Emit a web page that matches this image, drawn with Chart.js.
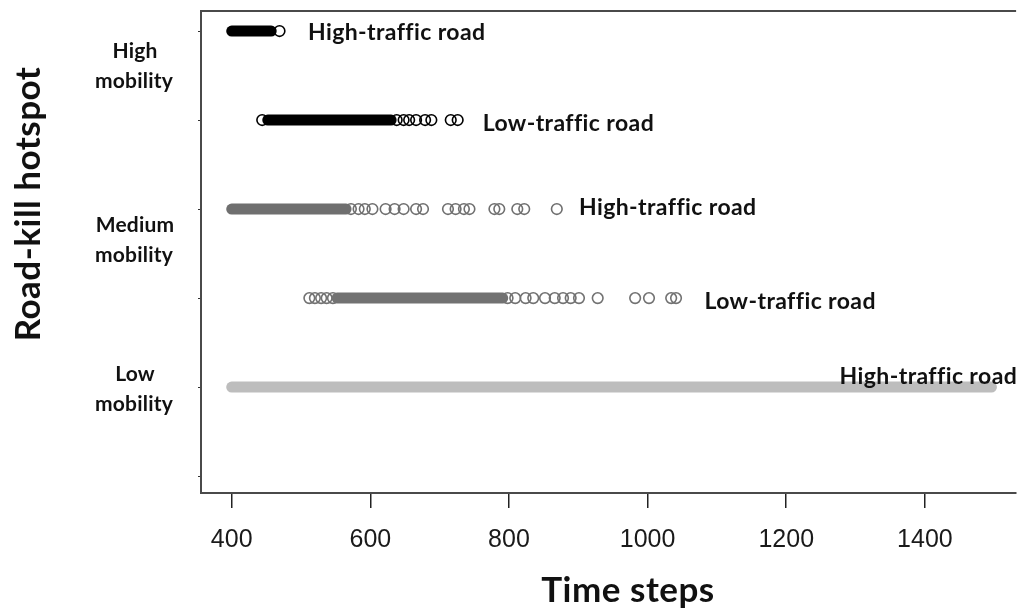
<!DOCTYPE html>
<html>
<head>
<meta charset="utf-8">
<script src="https://cdn.jsdelivr.net/npm/chart.js@4.4.1/dist/chart.umd.min.js"></script>
<style>
  html, body { margin: 0; padding: 0; background: #fff; }
  #wrap { width: 1023px; height: 611px; }
</style>
</head>
<body>
<div id="wrap"><canvas id="hotspot" width="1023" height="611"></canvas></div>
<script>
// Rows on the y scale, top to bottom (1 is the empty bottom row)
const rowLevels = [6, 5, 4, 3, 2];
const rowNames = [
  'High mobility, high-traffic road',
  'High mobility, low-traffic road',
  'Medium mobility, high-traffic road',
  'Medium mobility, low-traffic road',
  'Low mobility, high-traffic road',
];
const roadLabels = ['High-traffic road', 'Low-traffic road', 'High-traffic road', 'Low-traffic road', 'High-traffic road'];
const mobilityLabels = [['High', 'mobility'], ['Medium', 'mobility'], ['Low', 'mobility']];
const xTicks = [400, 600, 800, 1000, 1200, 1400];

// Dense runs of overlapping time steps (start, end)
const bandStart = [400, 452, 400, 552, 400];
const bandEnd = [457, 630, 565, 791, 1496];

// Separate time steps outside the dense runs
const highMobHighSteps = [469];
const highMobLowSteps = [444, 638, 648, 656, 666, 679, 688, 716, 726];
const medMobHighSteps = [572, 583, 592, 603, 622, 635, 648, 666, 676, 712, 723, 735, 743, 779, 786, 812, 822, 869];
const medMobLowSteps = [512, 520, 529, 537, 546, 798, 809, 824, 835, 852, 866, 878, 889, 901, 928, 982, 1002, 1034, 1041];
const lowMobHighSteps = [];
const looseSteps = [highMobHighSteps, highMobLowSteps, medMobHighSteps, medMobLowSteps, lowMobHighSteps];

// styles
const rowColors = ['#000000', '#000000', '#6f6f6f', '#727272', '#bdbdbd'];
const axisColor = '#4a4a4a';
const labelFont = '700 23px Lato, "Open Sans", sans-serif';
// where the road labels start (time step) and their nudge in px
const roadLabelAt = [510, 762, 901, 1082, 1277];
const roadLabelDy = [2, 4, -1, 4, -10];
const mobilityLabelAt = [5.6, 3.65, 1.98];

const datasets = [];
rowLevels.forEach((lvl, i) => {
  datasets.push({
    label: rowNames[i] + ' (run)',
    data: [{ x: bandStart[i], y: lvl }, { x: bandEnd[i], y: lvl }],
    showLine: true,
    borderColor: rowColors[i],
    borderWidth: 11,
    borderCapStyle: 'round',
    pointRadius: 0,
    pointHoverRadius: 0,
  });
  datasets.push({
    label: rowNames[i],
    data: looseSteps[i].map(v => ({ x: v, y: lvl })),
    showLine: false,
    pointStyle: 'circle',
    pointRadius: 5.3,
    pointBorderWidth: 1.6,
    borderColor: rowColors[i],
    backgroundColor: 'rgba(0,0,0,0)',
  });
});

const textPlugin = {
  id: 'textLayer',
  afterDraw(c) {
    const ctx = c.ctx;
    const { left, right, top } = c.chartArea;
    const xs = c.scales.x;
    const ys = c.scales.y;
    ctx.save();
    // top frame line
    ctx.strokeStyle = axisColor;
    ctx.lineWidth = 2;
    ctx.beginPath();
    ctx.moveTo(left - 1, top);
    ctx.lineTo(right, top);
    ctx.stroke();

    ctx.fillStyle = '#111';
    ctx.textBaseline = 'middle';
    ctx.letterSpacing = '0.4px';
    // road labels
    ctx.font = labelFont;
    ctx.textAlign = 'left';
    roadLabels.forEach((t, i) => {
      ctx.fillText(t, xs.getPixelForValue(roadLabelAt[i]), ys.getPixelForValue(rowLevels[i]) + roadLabelDy[i]);
    });
    // mobility labels
    ctx.textAlign = 'center';
    ctx.font = '700 21px Lato, "Open Sans", sans-serif';
    ctx.letterSpacing = '0.2px';
    mobilityLabels.forEach((lines, i) => {
      const yc = ys.getPixelForValue(mobilityLabelAt[i]);
      ctx.fillText(lines[0], 135, yc - 15);
      ctx.fillText(lines[1], 134, yc + 15);
    });
    // axis titles
    ctx.letterSpacing = '0.5px';
    ctx.font = '700 35px Lato, "Open Sans", sans-serif';
    ctx.fillText('Time steps', 628, 591);
    ctx.translate(29, 204);
    ctx.rotate(-Math.PI / 2);
    ctx.font = '700 35px Lato, "Open Sans", sans-serif';
    ctx.fillText('Road-kill hotspot', 0, 0);
    ctx.restore();
  },
};

new Chart(document.getElementById('hotspot'), {
  type: 'scatter',
  data: { datasets },
  options: {
    responsive: false,
    animation: false,
    layout: { padding: { top: 11, left: 0, right: 0, bottom: 0 } },
    plugins: {
      legend: { display: false },
      tooltip: { enabled: false },
    },
    scales: {
      x: {
        type: 'linear',
        min: 355.7,
        max: 1531.6,
        afterFit: (s) => { s.height = 118; },
        afterBuildTicks: (s) => { s.ticks = xTicks.map(v => ({ value: v })); },
        border: { display: true, color: axisColor, width: 2 },
        grid: { drawOnChartArea: false, drawTicks: true, tickLength: 15, color: '#222', lineWidth: 1.5 },
        ticks: {
          color: '#1a1a1a',
          padding: 17,
          maxRotation: 0,
          callback: (v) => String(v),
          font: { family: '"Liberation Sans", Arial, sans-serif', size: 25 },
        },
      },
      y: {
        type: 'linear',
        min: 0.81,
        max: 6.225,
        afterFit: (s) => { s.width = 201; },
        afterBuildTicks: (s) => { s.ticks = [1, 2, 3, 4, 5, 6].map(v => ({ value: v })); },
        border: { display: true, color: axisColor, width: 2 },
        grid: { drawOnChartArea: false, drawTicks: true, tickLength: 3, color: '#333', lineWidth: 1 },
        ticks: { display: false },
      },
    },
  },
  plugins: [textPlugin],
});
</script>
</body>
</html>
